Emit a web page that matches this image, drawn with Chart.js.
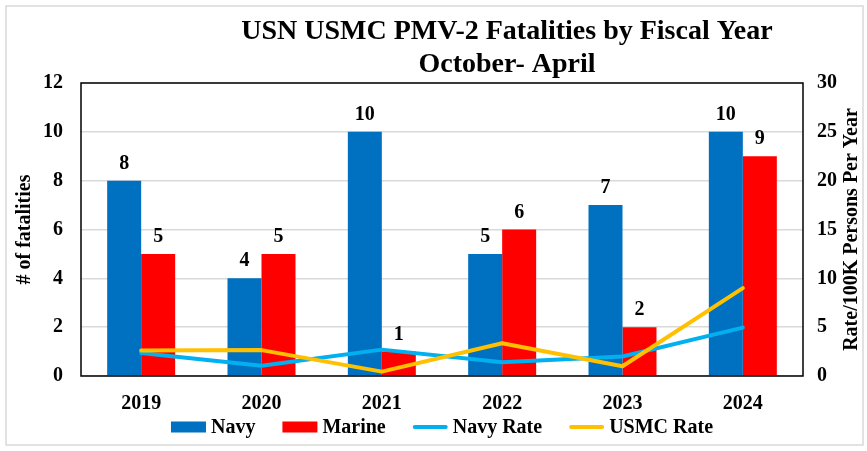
<!DOCTYPE html>
<html>
<head>
<meta charset="utf-8">
<script src="https://cdn.jsdelivr.net/npm/chart.js@4/dist/chart.umd.min.js"></script>
<style>
  html, body { margin: 0; padding: 0; background: #fff; }
  #wrap { width: 867px; height: 451px; position: relative; }
</style>
</head>
<body>
<div id="wrap"><canvas id="myChart" width="867" height="451"></canvas></div>
<script>
// chart values
var years = ["2019", "2020", "2021", "2022", "2023", "2024"];
var navy = [8, 4, 10, 5, 7, 10];
var marine = [5, 5, 1, 6, 2, 9];
var navyRate = [2.35, 1.05, 2.7, 1.4, 2.0, 4.95];
var usmcRate = [2.6, 2.65, 0.45, 3.35, 1.0, 9.0];

var titleLines = ["USN USMC PMV-2 Fatalities by Fiscal Year", "October- April"];
var leftTitle = "# of fatalities";
var rightTitle = "Rate/100K Persons Per Year";

var serif = "'Liberation Serif', 'Times New Roman', serif";

//draws title, frame, bar labels, legend and right axis title
var extras = {
  id: "extras",
  beforeDraw: function (chart) {
    var ctx = chart.ctx;
    ctx.save();
    ctx.fillStyle = "#fff";
    ctx.fillRect(0, 0, chart.width, chart.height);
    ctx.strokeStyle = "#d9d9d9";
    ctx.lineWidth = 1.5;
    ctx.strokeRect(6, 6, 857, 439);
    ctx.restore();
  },
  afterDatasetsDraw: function (chart) {
    var ctx = chart.ctx;
    var area = chart.chartArea;
    ctx.save();
    // plot border
    ctx.strokeStyle = "#000";
    ctx.lineWidth = 1.5;
    ctx.strokeRect(area.left, area.top, area.right - area.left, area.bottom - area.top);

    // value labels over bars
    ctx.fillStyle = "#000";
    ctx.font = "bold 20px " + serif;
    ctx.textAlign = "center";
    ctx.textBaseline = "alphabetic";
    chart.data.datasets.forEach(function (ds, i) {
      if (ds.type !== "bar") return;
      chart.getDatasetMeta(i).data.forEach(function (bar, j) {
        ctx.fillText(String(ds.data[j]), bar.x, bar.y - 12);
      });
    });

    // title
    ctx.font = "bold 28px " + serif;
    ctx.fillText(titleLines[0], 507, 39);
    ctx.fillText(titleLines[1], 507, 72);

    // right axis title, reading bottom to top
    ctx.save();
    ctx.translate(852, (area.top + area.bottom) / 2);
    ctx.rotate(-Math.PI / 2);
    ctx.font = "bold 20px " + serif;
    ctx.textBaseline = "middle";
    ctx.fillText(rightTitle, 0, 0);
    ctx.restore();

    // legend
    ctx.font = "bold 20px " + serif;
    ctx.textAlign = "left";
    ctx.textBaseline = "middle";
    var items = chart.data.datasets;
    var sw = 35, gap = 5, spacing = 27;
    var total = 0;
    items.forEach(function (ds, i) {
      total += sw + gap + ctx.measureText(ds.label).width;
      if (i < items.length - 1) total += spacing;
    });
    var x = (area.left + area.right) / 2 - total / 2;
    var y = 427;
    items.forEach(function (ds) {
      if (ds.type === "bar") {
        ctx.fillStyle = ds.backgroundColor;
        ctx.fillRect(x, y - 5.5, sw, 11);
      } else {
        ctx.strokeStyle = ds.borderColor;
        ctx.lineWidth = 4;
        ctx.lineCap = "round";
        ctx.beginPath();
        ctx.moveTo(x + 2, y);
        ctx.lineTo(x + sw - 2, y);
        ctx.stroke();
      }
      ctx.fillStyle = "#000";
      ctx.fillText(ds.label, x + sw + gap, y + 1);
      x += sw + gap + ctx.measureText(ds.label).width + spacing;
    });
    ctx.restore();
  },
};

var config = {
  data: {
    labels: years,
    datasets: [
      {
        type: "bar",
        label: "Navy",
        data: navy,
        backgroundColor: "#0070C0",
        yAxisID: "y",
        order: 2,
        categoryPercentage: 0.565,
        barPercentage: 1.0,
      },
      {
        type: "bar",
        label: "Marine",
        data: marine,
        backgroundColor: "#FF0000",
        yAxisID: "y",
        order: 2,
        categoryPercentage: 0.565,
        barPercentage: 1.0,
      },
      {
        type: "line",
        label: "Navy Rate",
        data: navyRate,
        borderColor: "#00B0F0",
        backgroundColor: "#00B0F0",
        borderWidth: 4,
        borderCapStyle: "round",
        borderJoinStyle: "round",
        pointRadius: 0,
        tension: 0,
        yAxisID: "y1",
        order: 1,
      },
      {
        type: "line",
        label: "USMC Rate",
        data: usmcRate,
        borderColor: "#FFC000",
        backgroundColor: "#FFC000",
        borderWidth: 4,
        borderCapStyle: "round",
        borderJoinStyle: "round",
        pointRadius: 0,
        tension: 0,
        yAxisID: "y1",
        order: 0,
      },
    ],
  },
  options: {
    responsive: false,
    animation: false,
    layout: { padding: { top: 83, left: 0, right: 0, bottom: 0 } },
    plugins: {
      legend: { display: false },
      title: { display: false },
      tooltip: { enabled: false },
    },
    scales: {
      x: {
        grid: { display: false, drawTicks: false },
        border: { display: false },
        ticks: {
          color: "#000",
          padding: 16,
          font: { family: serif, size: 20, weight: "bold" },
        },
        afterFit: function (s) { s.height = 75; },
      },
      y: {
        position: "left",
        min: 0,
        max: 12,
        ticks: {
          stepSize: 2,
          color: "#000",
          padding: 18,
          font: { family: serif, size: 20, weight: "bold" },
        },
        grid: { color: "#d9d9d9", lineWidth: 1.5, drawTicks: false },
        border: { display: false },
        title: {
          display: true,
          text: leftTitle,
          color: "#000",
          padding: { top: 13, bottom: 0 },
          font: { family: serif, size: 20, weight: "bold" },
        },
        afterFit: function (s) { s.width = 81; },
      },
      y1: {
        position: "right",
        min: 0,
        max: 30,
        ticks: {
          stepSize: 5,
          color: "#000",
          padding: 14,
          font: { family: serif, size: 20, weight: "bold" },
        },
        grid: { display: false, drawTicks: false },
        border: { display: false },
        afterFit: function (s) { s.width = 64; },
      },
    },
  },
  plugins: [extras],
};

var myChart = new Chart(document.getElementById("myChart"), config);
</script>
</body>
</html>
